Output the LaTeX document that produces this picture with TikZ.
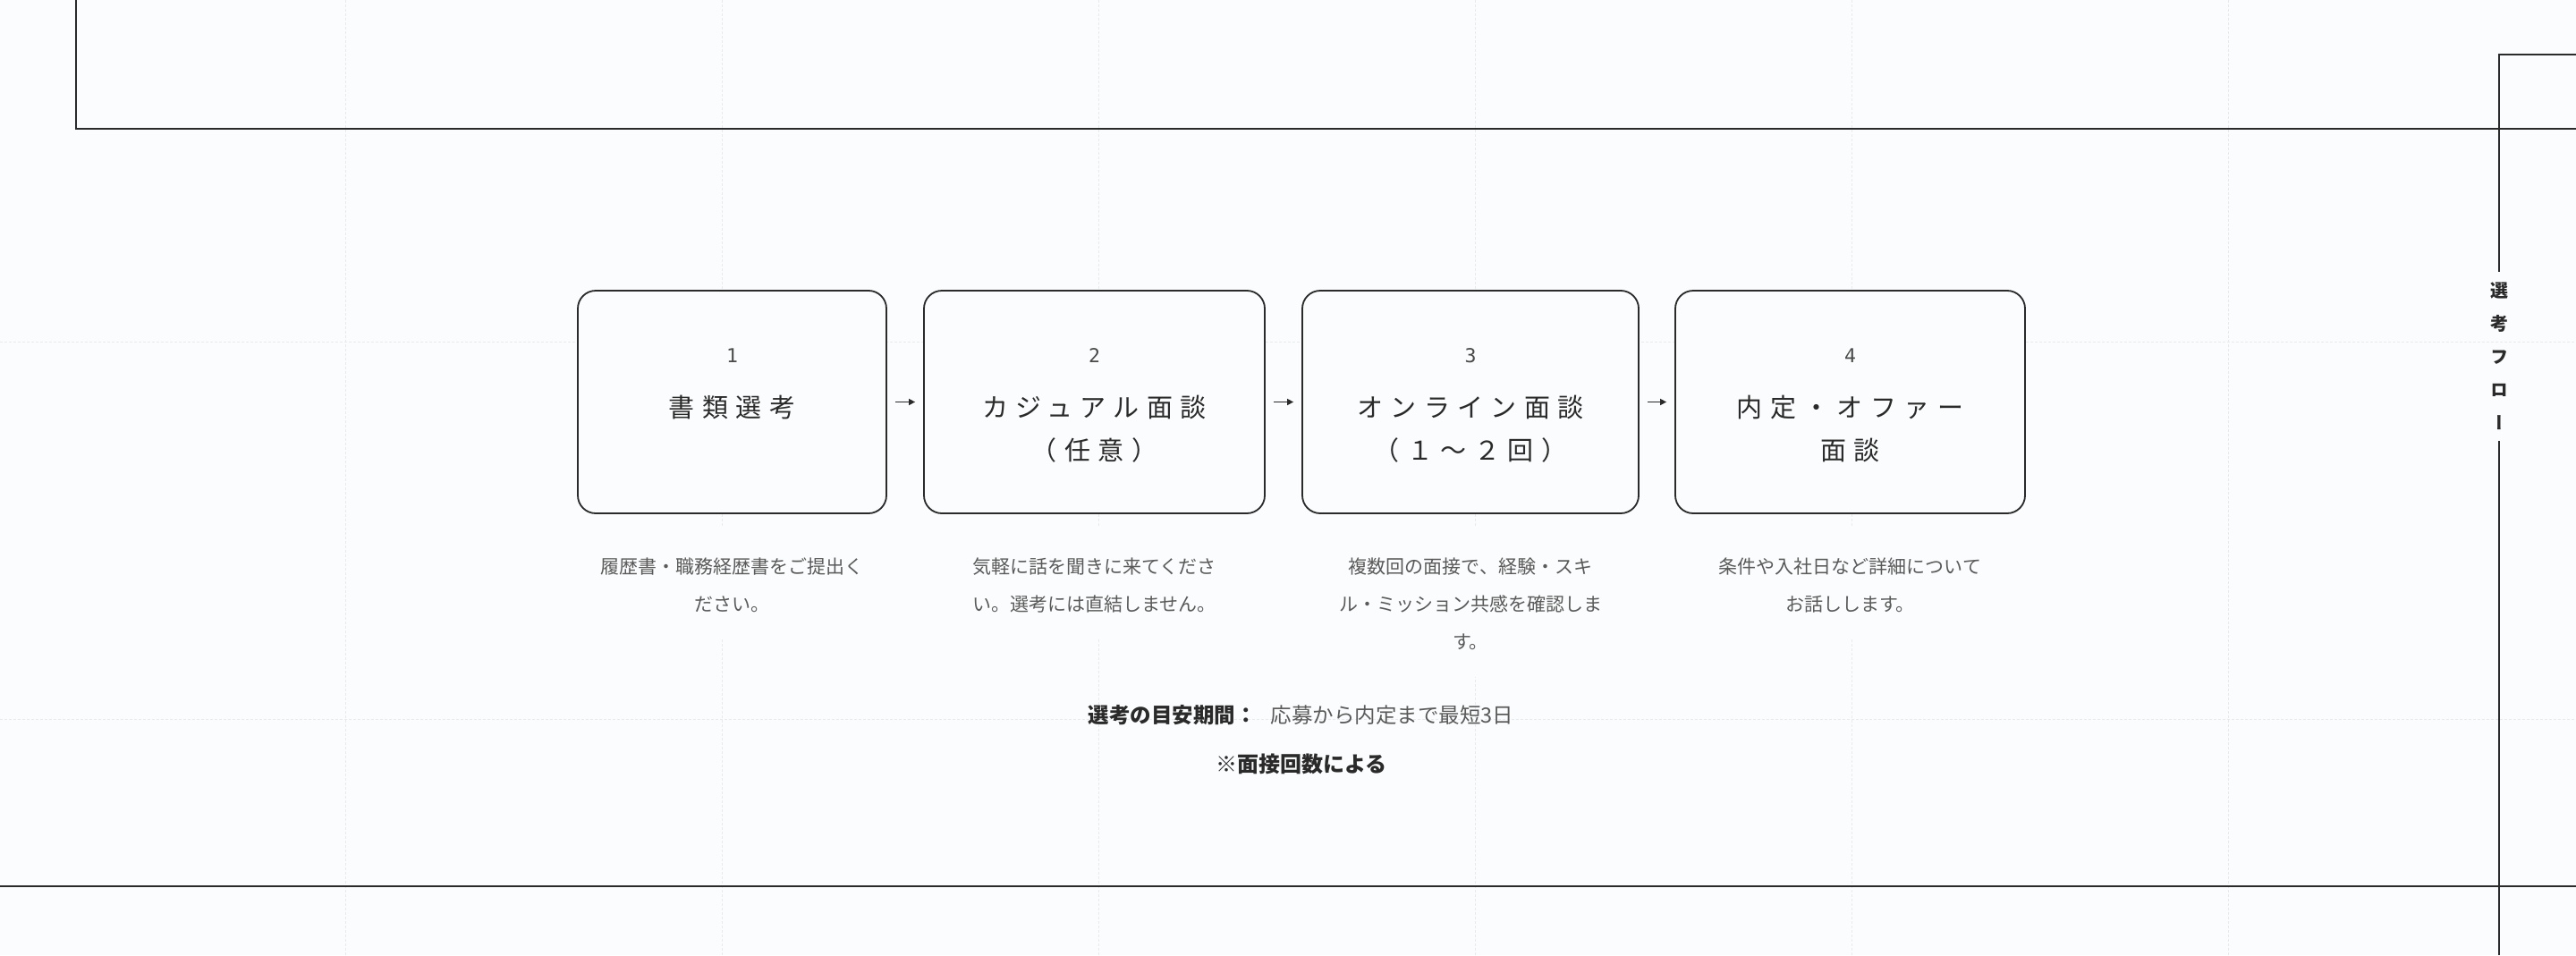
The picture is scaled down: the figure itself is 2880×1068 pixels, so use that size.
\documentclass[tikz,border=0pt]{standalone}
\usepackage{fontspec}
\setmainfont{Noto Sans CJK JP}
\newfontfamily\numfont{DejaVu Sans Mono}
\newfontfamily\titlefont{Noto Sans CJK JP}[LetterSpace=29]
\newfontfamily\vertfont{Noto Sans CJK JP}[RawFeature=+vert]
\usetikzlibrary{arrows.meta}

\definecolor{paper}{HTML}{FBFCFD}
\definecolor{ink}{HTML}{2A2A2A}
\definecolor{subtext}{HTML}{5A5A5A}
\definecolor{gridgray}{HTML}{E7EAED}

\tikzset{
  frame/.style={draw=ink, line width=2pt},
  gridline/.style={draw=gridgray, line width=1pt, dash pattern=on 3pt off 2pt},
  stepbox/.style={draw=ink, line width=1.8pt, fill=paper, rounded corners=20pt,
    minimum height=249pt, inner sep=0pt},
  stepnum/.style={anchor=base, inner sep=0pt, text=ink!85,
    font=\numfont\fontsize{21.5}{21.5}\selectfont},
  steptitle/.style={anchor=base, inner sep=0pt, text=ink,
    font=\titlefont\fontsize{29}{48}\selectfont},
  desc/.style={anchor=base, fill=paper, inner sep=0pt, align=center, text=subtext,
    text height=51pt, text depth=74pt, font=\fontsize{21}{42}\selectfont},
  flowarrow/.style={draw=ink, line width=1.5pt, -{Triangle[length=7pt,width=7pt]},
    shorten <=9pt, shorten >=9pt}
}

\begin{document}
\begin{tikzpicture}[x=1pt, y=-1pt]

% Page and background
\useasboundingbox (0,0) rectangle (2880,1068);
\fill[paper] (0,0) rectangle (2880,1068);

% Faint grid behind everything
\foreach \gx in {386,807,...,2491}
  \draw[gridline] (\gx,0) -- (\gx,1068);
\foreach \gy in {382,804}
  \draw[gridline] (0,\gy) -- (2880,\gy);

% Define points of the frame
\coordinate (TL) at (85,0);
\coordinate (TLc) at (85,144);
\coordinate (TR) at (2880,144);
\coordinate (RT) at (2880,61);
\coordinate (RTc) at (2794,61);
\coordinate (RB) at (2794,1068);
\coordinate (BL) at (0,991);
\coordinate (BR) at (2880,991);

% Vertical heading on the right
\node[font=\vertfont\bfseries\fontsize{20}{37}\selectfont, text=ink, align=center,
  inner xsep=0pt, inner ysep=12pt] (flow) at (2794,398.5) {選\\考\\フ\\ロ\\ー};

% Draw the frame lines
\draw[frame] (TL) -- (TLc) -- (TR);
\draw[frame] (RT) -- (RTc) -- (flow.north);
\draw[frame] (flow.south) -- (RB);
\draw[frame] (BL) -- (BR);

% Step boxes
\node[stepbox, minimum width=345pt] (s1) at (818.5,449.5) {};
\node[stepbox, minimum width=381pt] (s2) at (1223.5,449.5) {};
\node[stepbox, minimum width=376pt] (s3) at (1644,449.5) {};
\node[stepbox, minimum width=391pt] (s4) at (2068.5,449.5) {};

% Step numbers
\node[stepnum] (n1) at (818.5,405) {1};
\node[stepnum] (n2) at (1223.5,405) {2};
\node[stepnum] (n3) at (1644,405) {3};
\node[stepnum] (n4) at (2068.5,405) {4};

% Step titles
\node[steptitle] (t1) at (818.5,466) {書類選考};
\node[steptitle] (t2) at (1223.5,466) {カジュアル面談};
\node[steptitle] (t2b) at (1223.5,514) {（任意）};
\node[steptitle] (t3) at (1644,466) {オンライン面談};
\node[steptitle] (t3b) at (1644,514) {（１～２回）};
\node[steptitle] (t4) at (2068.5,466) {内定・オファー};
\node[steptitle] (t4b) at (2068.5,514) {面談};

% Arrows between the steps
\draw[flowarrow] (s1) -- (s2);
\draw[flowarrow] (s2) -- (s3);
\draw[flowarrow] (s3) -- (s4);

% Descriptions under the steps
\node[desc, text width=345pt] (d1) at (818.5,641) {履歴書・職務経歴書をご提出く\\ださい。};
\node[desc, text width=381pt] (d2) at (1223.5,641) {気軽に話を聞きに来てくださ\\い。選考には直結しません。};
\node[desc, text width=376pt, text depth=116pt] (d3) at (1644,641) {複数回の面接で、経験・スキ\\ル・ミッション共感を確認しま\\す。};
\node[desc, text width=391pt] (d4) at (2068.5,641) {条件や入社日など詳細について\\お話しします。};

% Period and note
\node[anchor=base, inner sep=0pt, font=\fontsize{23.5}{24}\selectfont] (period) at (1454.5,808)
  {{\bfseries\color{ink}選考の目安期間：}\hspace{16pt}{\color{subtext}応募から内定まで最短3日}};
\node[anchor=base, inner sep=0pt, text=ink, font=\bfseries\fontsize{24}{24}\selectfont] (note) at (1455,863) {※面接回数による};

\end{tikzpicture}
\end{document}
